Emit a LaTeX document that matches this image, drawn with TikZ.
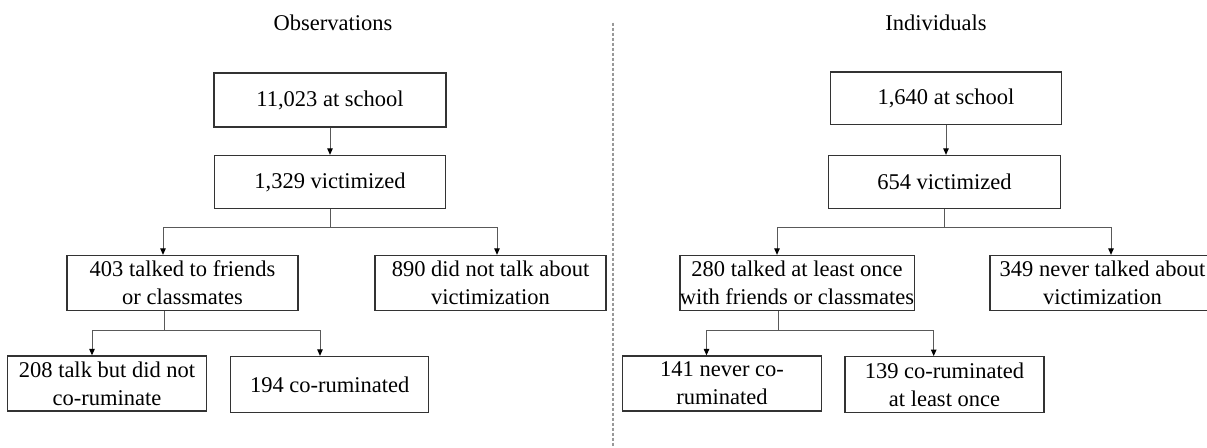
\documentclass[tikz,border=0pt]{standalone}
\usepackage{fontspec}
\setmainfont{Liberation Serif}
\usetikzlibrary{arrows.meta}

\begin{document}
\begin{tikzpicture}[x=1pt,y=-1pt,
   font=\fontsize{22.5pt}{28.3pt}\selectfont,
   box/.style={draw=black!80,line width=1.3pt,align=center,inner sep=0pt,minimum height=55pt},
   link/.style={draw=black!65,line width=1pt},
   arr/.style={link,-{Triangle[length=6.5pt,width=5.5pt,black]}},
   sep/.style={draw=black!40,line width=1.2pt,dash pattern=on 3pt off 2pt}]
  \useasboundingbox (0,0) rectangle (1207,447);
  % observations
  \node (tobs) at (333,23) {Observations};
  \node[box,minimum width=232pt,minimum height=54pt] (o1) at (330,100) {11,023 at school};
  \node[box,minimum width=231pt,minimum height=53pt] (o2) at (330,182) {1,329 victimized};
  \node[box,minimum width=231pt] (o3) at (182.5,283) {403 talked to friends\\or classmates};
  \node[box,minimum width=231pt] (o4) at (490.5,283) {890 did not talk about\\victimization};
  \node[box,minimum width=199.5pt] (o5) at (107,383.5) {208 talk but did not\\co-ruminate};
  \node[box,minimum width=198pt,minimum height=56pt] (o6) at (329.7,384.5) {194 co-ruminated};
  \coordinate (oj) at (330,227.5);
  \coordinate (ok) at (164.5,330.7);
  \draw[arr] (o1) -- (o2);
  \draw[link] (o2) -- (oj);
  \draw[arr] (oj) -| ([xshift=-19.5pt]o3.north);
  \draw[arr] (oj) -| ([xshift=6.5pt]o4.north);
  \draw[link] ([xshift=-18pt]o3.south) -- (ok);
  \draw[arr] (ok) -| ([xshift=-15pt]o5.north);
  \draw[arr] (ok) -| ([xshift=-9.7pt]o6.north);
  % separator
  \draw[sep] (613,22.7) -- (613,447);
  % individuals
  \node (tind) at (936,23) {Individuals};
  \node[box,minimum width=231pt,minimum height=52.5pt] (i1) at (946,98.2) {1,640 at school};
  \node[box,minimum width=232pt,minimum height=53pt] (i2) at (944.5,182) {654 victimized};
  \node[box,minimum width=231.5pt] (i3) at (797,283) {280 talked at least once\\with friends or classmates};
  \node[box,minimum width=225pt] (i4) at (1102.5,283) {349 never talked about\\victimization};
  \node[box,minimum width=198.5pt] (i5) at (722,383.5) {141 never co-\\ruminated};
  \node[box,minimum width=199pt,minimum height=56pt] (i6) at (944.5,384.7) {139 co-ruminated\\at least once};
  \coordinate (ij) at (944.6,227.5);
  \coordinate (ik) at (778,330.7);
  \draw[arr] (i1.south) -- (i1.south |- i2.north);
  \draw[link] (i2.south -| ij) -- (ij);
  \draw[arr] (ij) -| ([xshift=-20pt]i3.north);
  \draw[arr] (ij) -| ([xshift=8.5pt]i4.north);
  \draw[link] ([xshift=-19pt]i3.south) -- (ik);
  \draw[arr] (ik) -| ([xshift=-15.5pt]i5.north);
  \draw[arr] (ik) -| ([xshift=-10.8pt]i6.north);
\end{tikzpicture}
\end{document}
